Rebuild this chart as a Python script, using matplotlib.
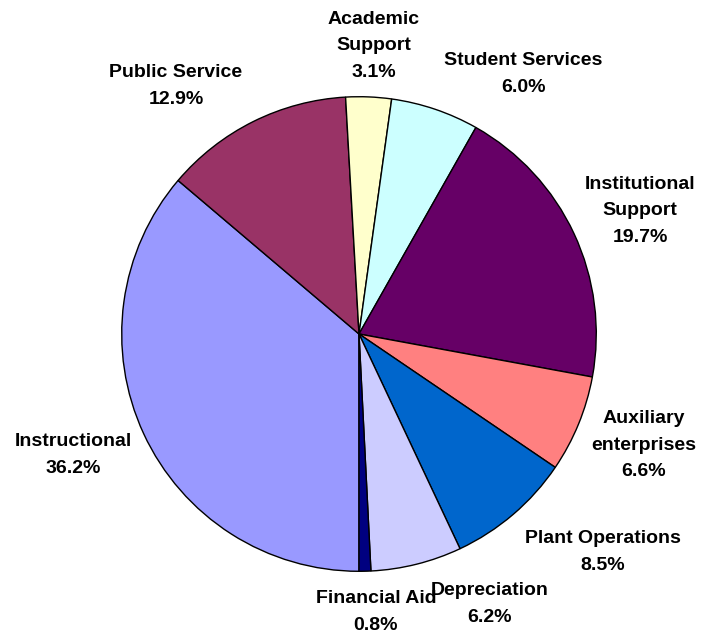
import matplotlib.pyplot as plt

# data, in drawing order (clockwise from the bottom)
categories = ["Instructional", "Public Service", "Academic\nSupport", "Student Services",
              "Institutional\nSupport", "Auxiliary\nenterprises", "Plant Operations",
              "Depreciation", "Financial Aid"]
shares = [36.2, 12.9, 3.1, 6.0, 19.7, 6.6, 8.5, 6.2, 0.8]
colors = ["#9999FF", "#993366", "#FFFFCC", "#CCFFFF", "#660066",
          "#FF8080", "#0066CC", "#CCCCFF", "#000080"]

# label centres in pixels (x, y from top)
label_pos = [(73, 455), (176, 86), (374, 46), (523, 74), (640, 211),
             (644, 445), (603, 552), (490, 604), (376, 612)]

W, H = 701, 634
cx, cy, r = 359, 334, 238

fig = plt.figure(figsize=(W / 100, H / 100), dpi=100)
ax = fig.add_axes([(cx - r) / W, (H - cy - r) / H, 2 * r / W, 2 * r / H])
ax.pie(shares, colors=colors, startangle=270, counterclock=False, radius=1,
       wedgeprops={"edgecolor": "black", "linewidth": 1.0})
ax.set_xlim(-1.003, 1.003)
ax.set_ylim(-1.003, 1.003)
ax.set_aspect("auto")
ax.axis("off")

# Financial Aid first so Depreciation sits over it, as in the original
for i in [8, 0, 1, 2, 3, 4, 5, 6, 7]:
    x, y = label_pos[i]
    fig.text(x / W, 1 - y / H, f"{categories[i]}\n{shares[i]:.1f}%",
             ha="center", va="center", fontsize=14, fontweight="bold",
             family="Liberation Sans", linespacing=1.7, zorder=5)

fig.savefig("out.png", dpi=100)
